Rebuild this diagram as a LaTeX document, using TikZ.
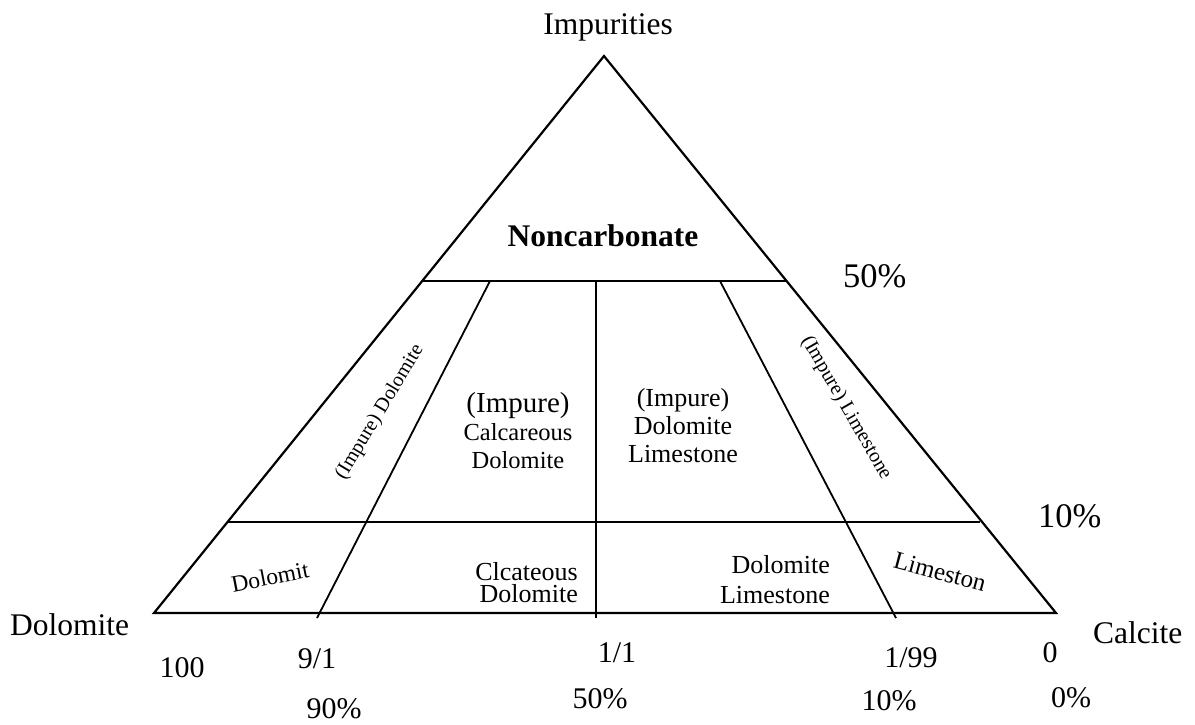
\documentclass[tikz,border=0pt]{standalone}
\usepackage{fontspec}
\setmainfont{Liberation Serif}

\begin{document}
\begin{tikzpicture}[
  x=1pt, y=-1pt,
  edge/.style={line width=2.2pt, line join=miter},
  split/.style={line width=1.8pt},
  corner/.style={font=\fontsize{31.5}{34}\selectfont, anchor=base west, inner sep=0pt},
  tick/.style={font=\fontsize{30}{32}\selectfont, anchor=base, inner sep=0pt},
  level/.style={font=\fontsize{34.5}{36}\selectfont, anchor=base west, inner sep=0pt},
  field/.style={font=\fontsize{26}{28}\selectfont, align=center, inner sep=0pt},
  slanted/.style={font=\fontsize{20.2}{22}\selectfont, inner sep=0pt},
]
  \useasboundingbox (0,0) rectangle (1195,724);

  % corners of the triangle and the cut points
  \coordinate (top) at (604,56);
  \coordinate (dol) at (154,613);
  \coordinate (cal) at (1056,613);
  \coordinate (l50) at (422,281);
  \coordinate (r50) at (786,281);
  \coordinate (l10) at (228,522);
  \coordinate (r10) at (980,522);
  \coordinate (s1a) at (490,281);
  \coordinate (s1b) at (317,618);
  \coordinate (s2a) at (596,281);
  \coordinate (s2b) at (596,618);
  \coordinate (s3a) at (720,281);
  \coordinate (s3b) at (896,618);

  \draw[edge] (dol) -- (top) -- (cal) -- cycle;
  \draw[split] (l50) -- (r50);
  \draw[split] (l10) -- (r10);
  \draw[split] (s1a) -- (s1b);
  \draw[split] (s2a) -- (s2b);
  \draw[split] (s3a) -- (s3b);

  % end members
  \node[font=\fontsize{31.5}{34}\selectfont, anchor=base, inner sep=0pt] (imp) at (608,34) {Impurities};
  \node[corner] (dolname) at (10,635) {Dolomite};
  \node[corner] (calname) at (1093,643) {Calcite};
  \node[font=\fontsize{31.5}{34}\selectfont\bfseries, anchor=base, inner sep=0pt] (nonc) at (603,246) {Noncarbonate};

  % impurity levels
  \node[level] (p50) at (843,287) {50\%};
  \node[level] (p10) at (1038,527) {10\%};

  % ratio scale along the base
  \node[tick] (t100) at (182,677) {100};
  \node[tick] (t91) at (317,668) {9/1};
  \node[tick] (t90) at (334,718) {90\%};
  \node[tick] (t11) at (617,662) {1/1};
  \node[tick] (t50) at (600,708) {50\%};
  \node[tick] (t199) at (911,667) {1/99};
  \node[tick] (t10) at (889,710) {10\%};
  \node[tick] (t0) at (1050,662) {0};
  \node[tick] (t0p) at (1071,707) {0\%};

  % fields
  \node[slanted, rotate=59] (impdol) at (380,412) {(Impure) Dolomite};
  \node[field, anchor=north, font=\fontsize{24.5}{28}\selectfont] (calcdol) at (518,392)
    {{\fontsize{29}{29}\selectfont (Impure)}\\Calcareous\\Dolomite};
  \node[field, anchor=north] (dollime) at (683,388) {(Impure)\\Dolomite\\Limestone};
  \node[slanted, rotate=-60] (implime) at (846,408) {(Impure) Limestone};

  \node[font=\fontsize{23.5}{26}\selectfont, rotate=11, inner sep=0pt] (dolmt) at (270,577) {Dolomit};
  \node[field, align=right, anchor=north east, font=\fontsize{26}{22}\selectfont] (clc) at (578,562)
    {Clcateous\\Dolomite};
  \begin{scope}
    \clip (700,540) rectangle (860,603);
    \node[field, align=right, anchor=north east, font=\fontsize{26}{30}\selectfont] (dlime) at (830,555)
      {Dolomite\\Limestone};
  \end{scope}
  \node[font=\fontsize{25}{27}\selectfont, rotate=-15, inner sep=0pt] (limstn) at (940,572) {Limeston};
\end{tikzpicture}
\end{document}
